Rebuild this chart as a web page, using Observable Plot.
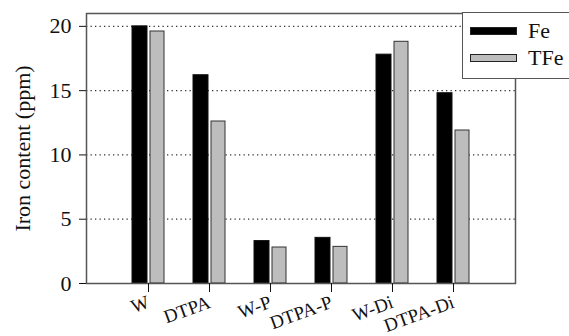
<!DOCTYPE html>
<html>
<head>
<meta charset="utf-8">
<script src="https://cdn.jsdelivr.net/npm/d3@7"></script>
<script src="https://cdn.jsdelivr.net/npm/@observablehq/plot@0.6"></script>
<style>
  html, body { margin: 0; padding: 0; background: #fff; }
  #wrap { position: relative; width: 569px; height: 336px; overflow: hidden; }
  #wrap svg text { font-family: "Liberation Serif", "Times New Roman", serif; }
  #legend {
    position: absolute; left: 462px; top: 12px; width: 120px; height: 67px;
    box-sizing: border-box; border: 1.5px solid #555; background: #fff;
    font-family: "Liberation Serif", "Times New Roman", serif; font-size: 22px; color: #111;
  }
  .row { position: absolute; left: 7px; display: flex; align-items: center; }
  .sw { width: 47px; height: 8px; box-sizing: border-box; border: 1px solid #222; margin-right: 11px; }
</style>
</head>
<body>
<div id="wrap"></div>
<script>
const categories = ["W", "DTPA", "W-P", "DTPA-P", "W-Di", "DTPA-Di"];
const feValues = [20.0, 16.2, 3.3, 3.55, 17.8, 14.8];
const tfeValues = [19.6, 12.6, 2.8, 2.85, 18.8, 11.9];
const seriesNames = ["Fe", "TFe"];
const seriesColors = ["#000000", "#bdbdbd"];
const yTicks = [0, 5, 10, 15, 20];
const gridTicks = [5, 10, 15, 20];

const rows = categories.flatMap((c, i) => [
  {category: c, series: "Fe", value: feValues[i]},
  {category: c, series: "TFe", value: tfeValues[i]}
]);

const chart = Plot.plot({
  width: 569,
  height: 336,
  marginLeft: 86,
  marginRight: 54,
  marginTop: 13,
  marginBottom: 53,
  style: {fontFamily: "'Liberation Serif', 'Times New Roman', serif", fontSize: "21px", color: "#111", background: "#fff"},
  x: {domain: categories, paddingInner: 0.48, paddingOuter: 0.74},
  y: {domain: [0, 21]},
  color: {domain: seriesNames, range: seriesColors},
  marks: [
    Plot.gridY(gridTicks, {stroke: "#333", strokeOpacity: 1, strokeWidth: 1.3, strokeDasharray: "1.3,3.2"}),
    Plot.barY(rows.filter(d => d.series === "Fe"), {x: "category", y: "value", fill: "series", stroke: "#111", strokeWidth: 1, insetRight: 17}),
    Plot.barY(rows.filter(d => d.series === "TFe"), {x: "category", y: "value", fill: "series", stroke: "#333", strokeWidth: 1, insetLeft: 18}),
    Plot.frame({stroke: "#555", strokeWidth: 1.5}),
    Plot.axisY({ticks: yTicks, tickSize: 7, tickPadding: 8, label: "Iron content (ppm)", labelAnchor: "center", labelArrow: "none", labelOffset: 72, fontSize: 22}),
    Plot.axisX({tickSize: 9, tickRotate: -20, tickPadding: 9, label: null, fontSize: 19})
  ]
});

const wrap = document.getElementById("wrap");
wrap.appendChild(chart);

const legend = document.createElement("div");
legend.id = "legend";
seriesNames.forEach((name, i) => {
  const row = document.createElement("div");
  row.className = "row";
  row.style.top = (i === 0 ? 5 : 32) + "px";
  const sw = document.createElement("div");
  sw.className = "sw";
  sw.style.background = seriesColors[i];
  row.appendChild(sw);
  const t = document.createElement("span");
  t.textContent = name;
  row.appendChild(t);
  legend.appendChild(row);
});
wrap.appendChild(legend);
</script>
</body>
</html>
